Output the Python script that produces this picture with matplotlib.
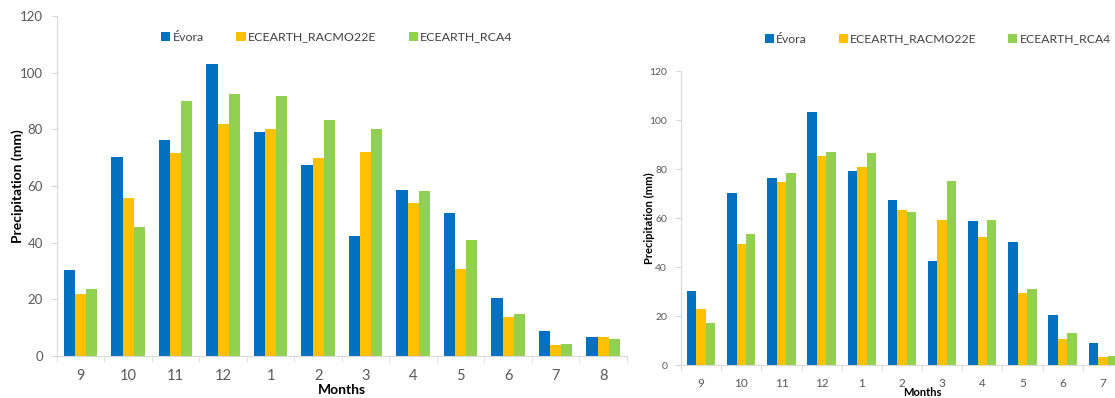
import numpy as np
import matplotlib.pyplot as plt
from matplotlib.patches import Patch

plt.rcParams['font.family'] = ['Lato', 'DejaVu Sans']

months = ['9', '10', '11', '12', '1', '2', '3', '4', '5', '6', '7', '8']

# observed precipitation at Évora (mm)
evora = [30.2, 70.1, 76.3, 103.2, 79.0, 67.5, 42.3, 58.6, 50.3, 20.6, 8.8, 6.8]

# left panel: models
racmo_a = [21.9, 55.8, 71.6, 81.8, 80.0, 70.0, 71.9, 53.9, 30.7, 13.9, 3.8, 6.8]
rca4_a = [23.5, 45.5, 90.1, 92.5, 91.7, 83.3, 80.0, 58.1, 40.9, 14.7, 4.1, 5.9]

# right panel: models (months 9..7)
racmo_b = [22.7, 49.3, 74.8, 85.3, 81.0, 63.4, 59.3, 52.2, 29.4, 10.8, 3.3]
rca4_b = [17.3, 53.3, 78.5, 86.8, 86.4, 62.6, 75.2, 59.0, 30.9, 13.2, 3.8]

series_names = ['Évora', 'ECEARTH_RACMO22E', 'ECEARTH_RCA4']
colors = ['#0070C0', '#FFC000', '#92D050']
axis_gray = '#D9D9D9'
text_gray = '#595959'

fig = plt.figure(figsize=(11.15, 3.98), dpi=100)
ax1 = fig.add_axes([0.0511, 0.1055, 0.5112, 0.8543])
ax2 = fig.add_axes([0.6108, 0.0829, 0.4323, 0.7387])


def draw(ax, obs, m1, m2, n_cat, tick_fs, label_fs, ypad):
    w = 0.235
    for k, vals in enumerate([obs, m1, m2]):
        x = np.arange(len(vals))
        ax.bar(x + (k - 1) * w, vals, width=w, color=colors[k], linewidth=0)
    ax.set_xlim(-0.5, n_cat - 0.5)
    ax.set_ylim(0, 120)
    ax.set_yticks(range(0, 121, 20))
    ax.set_xticks(np.arange(n_cat))
    ax.set_xticklabels(months[:n_cat], fontsize=tick_fs + 1, color=text_gray)
    ax.set_xticks(np.arange(n_cat + 1) - 0.5, minor=True)
    ax.tick_params(axis='x', which='major', length=0, pad=9)
    ax.tick_params(axis='x', which='minor', length=4, color=axis_gray, direction='out')
    ax.tick_params(axis='y', length=4, color=axis_gray, labelsize=tick_fs,
                   labelcolor=text_gray, pad=6)
    for s in ['top', 'right']:
        ax.spines[s].set_visible(False)
    for s in ['left', 'bottom']:
        ax.spines[s].set_color(axis_gray)
    ax.set_ylabel('Precipitation (mm)', fontsize=label_fs, fontweight='bold', labelpad=ypad)
    ax.set_xlabel('Months', fontsize=label_fs, fontweight='bold', labelpad=1)


draw(ax1, evora, racmo_a, rca4_a, 12, 9.5, 10, -3)
draw(ax2, evora[:11], racmo_b, rca4_b, 12, 7.5, 8, -4)
ax2.set_xticklabels(months[:11] + [''], fontsize=8.5, color=text_gray)
ax2.xaxis.labelpad = -1

handles = [Patch(facecolor=c, edgecolor='none') for c in colors]
leg_kw = dict(loc='center left', ncol=3, frameon=False,
              handlelength=0.75, handleheight=0.75, handletextpad=0.2,
              labelcolor='#404040', borderpad=0, borderaxespad=0)
fig.legend(handles, series_names, bbox_to_anchor=(0.1445, 0.907),
           fontsize=8.9, columnspacing=2.6, **leg_kw)
fig.legend(handles, series_names, bbox_to_anchor=(0.686, 0.902),
           fontsize=8.7, columnspacing=2.6, **leg_kw)

fig.savefig('out.png', dpi=100)
